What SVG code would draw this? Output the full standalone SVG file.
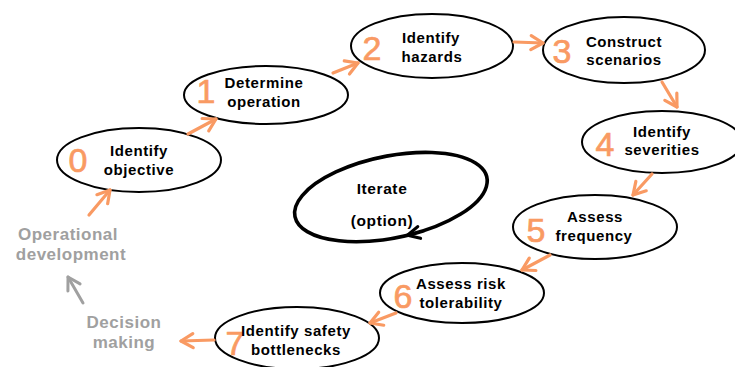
<svg xmlns="http://www.w3.org/2000/svg" width="735" height="367" viewBox="0 0 735 367">
  <style>
    .node ellipse { fill: #ffffff; stroke: #000000; stroke-width: 2; }
    .label { font-family: "Liberation Sans", Arial, sans-serif; font-weight: bold; font-size: 15px; letter-spacing: 0.6px; fill: #000000; text-anchor: middle; }
    .num { font-family: "Liberation Sans", Arial, sans-serif; font-size: 34px; fill: #F99A63; stroke: #F99A63; stroke-width: 0.7; text-anchor: middle; }
    .side { font-family: "Liberation Sans", Arial, sans-serif; font-weight: bold; font-size: 17px; letter-spacing: 0.5px; fill: #A0A0A0; text-anchor: middle; }
    .flow { fill: none; stroke: #F99A63; stroke-width: 3.2; stroke-linecap: round; marker-end: url(#ah); }
    .back { fill: none; stroke: #A0A0A0; stroke-width: 3; stroke-linecap: round; marker-end: url(#ahg); }
  </style>
  <defs>
    <marker id="ah" viewBox="0 0 14 14" refX="13" refY="7" markerWidth="14" markerHeight="14" markerUnits="userSpaceOnUse" orient="auto" overflow="visible">
      <path d="M1,0 L13,7 L1,14" fill="none" stroke="#F99A63" stroke-width="3.2" stroke-linecap="round" stroke-linejoin="round"/>
    </marker>
    <marker id="ahg" viewBox="0 0 14 14" refX="13" refY="7" markerWidth="14" markerHeight="14" markerUnits="userSpaceOnUse" orient="auto" overflow="visible">
      <path d="M1,0 L13,7 L1,14" fill="none" stroke="#A0A0A0" stroke-width="3" stroke-linecap="round" stroke-linejoin="round"/>
    </marker>
    <marker id="ahk" viewBox="0 0 14 14" refX="13" refY="7" markerWidth="14" markerHeight="14" markerUnits="userSpaceOnUse" orient="auto" overflow="visible">
      <path d="M1,1 L13,7 L1,13" fill="none" stroke="#000000" stroke-width="3.2" stroke-linecap="round" stroke-linejoin="round"/>
    </marker>
  </defs>

  <rect width="735" height="367" fill="#ffffff"/>

  <!-- side notes -->
  <g id="operational-development">
    <text class="side" x="68" y="240">Operational</text>
    <text class="side" x="71" y="260">development</text>
  </g>
  <g id="decision-making">
    <text class="side" x="124" y="328">Decision</text>
    <text class="side" x="124" y="348">making</text>
  </g>

  <!-- process steps -->
  <g id="step0" class="node">
    <ellipse cx="139" cy="160" rx="82" ry="32"/>
    <text class="num" x="78" y="172">0</text>
    <text class="label" x="139" y="156">Identify</text>
    <text class="label" x="139" y="175">objective</text>
  </g>
  <g id="step1" class="node">
    <ellipse cx="266" cy="95" rx="82" ry="29"/>
    <text class="num" x="206" y="103">1</text>
    <text class="label" x="264" y="88">Determine</text>
    <text class="label" x="264" y="107">operation</text>
  </g>
  <g id="step2" class="node">
    <ellipse cx="432" cy="46" rx="81" ry="32"/>
    <text class="num" x="372" y="60">2</text>
    <text class="label" x="431" y="43">Identify</text>
    <text class="label" x="432" y="62">hazards</text>
  </g>
  <g id="step3" class="node">
    <ellipse cx="624" cy="50" rx="81" ry="33"/>
    <text class="num" x="562" y="63">3</text>
    <text class="label" x="624" y="47">Construct</text>
    <text class="label" x="624" y="65">scenarios</text>
  </g>
  <g id="step4" class="node">
    <ellipse cx="662" cy="142" rx="80" ry="31"/>
    <text class="num" x="605" y="156">4</text>
    <text class="label" x="662" y="137">Identify</text>
    <text class="label" x="662" y="155">severities</text>
  </g>
  <g id="step5" class="node">
    <ellipse cx="595" cy="227" rx="82" ry="32"/>
    <text class="num" x="536" y="242">5</text>
    <text class="label" x="595" y="222">Assess</text>
    <text class="label" x="594" y="241">frequency</text>
  </g>
  <g id="step6" class="node">
    <ellipse cx="462" cy="293" rx="82" ry="30"/>
    <text class="num" x="403" y="308">6</text>
    <text class="label" x="461" y="289">Assess risk</text>
    <text class="label" x="461" y="308">tolerability</text>
  </g>
  <g id="step7" class="node">
    <ellipse cx="297" cy="338" rx="82" ry="31"/>
    <text class="num" x="235" y="355">7</text>
    <text class="label" x="296" y="336">Identify safety</text>
    <text class="label" x="296" y="355">bottlenecks</text>
  </g>

  <!-- optional iteration loop -->
  <g id="iterate">
    <g transform="translate(391,197) rotate(-11.5)">
      <path d="M25.4,39.6 A98,41 0 0 1 -98,0 A98,41 0 0 1 49,-35.5 A98,41 0 0 1 8.5,40.8" fill="none" stroke="#000000" stroke-width="3.6" stroke-linecap="round" marker-end="url(#ahk)"/>
    </g>
    <text class="label" x="382" y="194" style="font-size:15.5px">Iterate</text>
    <text class="label" x="382" y="226" style="font-size:15.5px">(option)</text>
  </g>

  <!-- connectors -->
  <g id="connectors">
    <path class="flow" d="M89,215 L110,190"/>
    <path class="flow" d="M188,134 L216,119"/>
    <path class="flow" d="M333,73 L358,63"/>
    <path class="flow" d="M514,42 L543,43"/>
    <path class="flow" d="M662,82 L677,107"/>
    <path class="flow" d="M652,174 L633,195"/>
    <path class="flow" d="M550,255 L522,270"/>
    <path class="flow" d="M396,313 L370,323"/>
    <path class="flow" d="M214,340 L181,341"/>
    <path class="back" d="M83,303 L68,277"/>
  </g>
</svg>
